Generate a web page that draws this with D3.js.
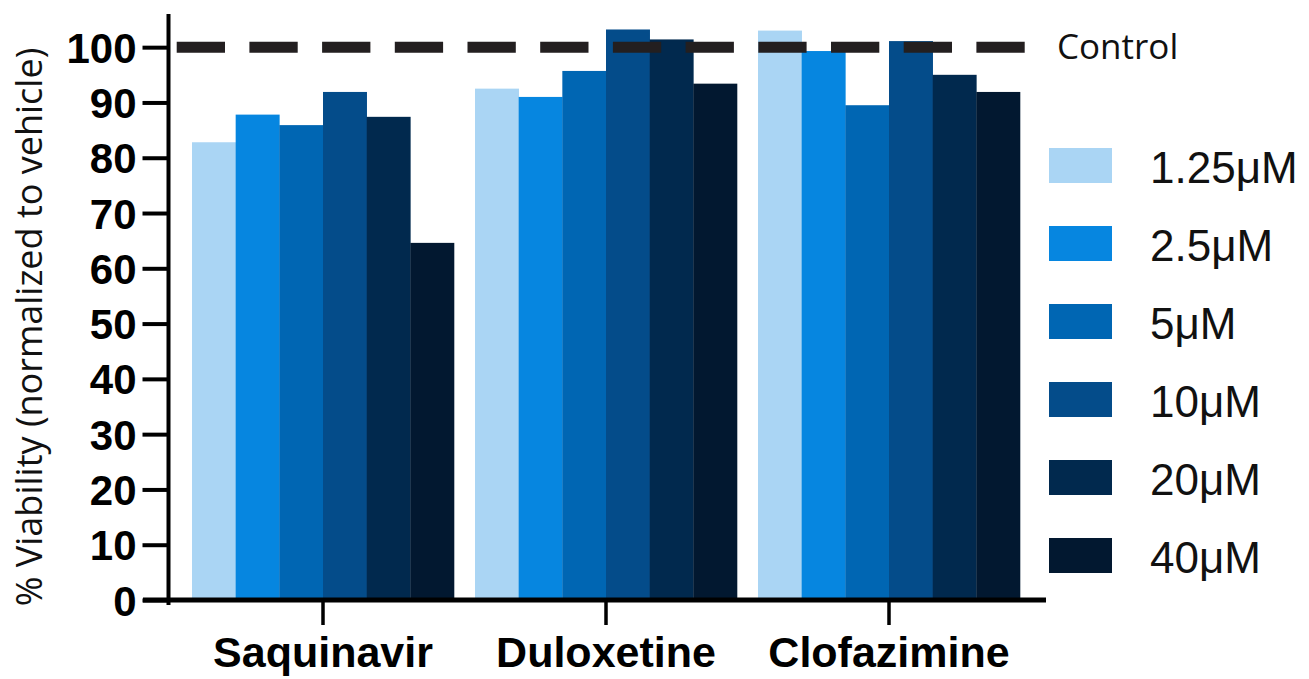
<!DOCTYPE html>
<html>
<head>
<meta charset="utf-8">
<script src="https://cdn.jsdelivr.net/npm/d3@7"></script>
<style>
  html, body { margin: 0; padding: 0; background: #fff; }
  svg { display: block; }
</style>
</head>
<body>
<svg id="chart" width="1309" height="679"></svg>
<script>
// ---- Data ----
const drugs = ["Saquinavir", "Duloxetine", "Clofazimine"];
const doses = ["1.25\u03BCM", "2.5\u03BCM", "5\u03BCM", "10\u03BCM", "20\u03BCM", "40\u03BCM"];
const saquinavir = [82.8, 87.8, 85.9, 91.9, 87.4, 64.6];
const duloxetine = [92.5, 91.0, 95.7, 103.2, 101.4, 93.4];
const clofazimine = [103.0, 99.3, 89.5, 101.1, 95.0, 91.9];
const doseColors = ["#aad5f4", "#0686e0", "#0066b3", "#044c8a", "#01294e", "#021830"];
const yTicks = [0, 10, 20, 30, 40, 50, 60, 70, 80, 90, 100];
const controlValue = 100;
const controlLabel = "Control";
const yLabel = "% Viability (normalized to vehicle)";

const seriesByDrug = [saquinavir, duloxetine, clofazimine];

// ---- Layout ----
const svg = d3.select("#chart");
const fontSans = "'Liberation Sans', Arial, sans-serif";
const fontOpen = "'Open Sans', 'Noto Sans', sans-serif";

const y = d3.scaleLinear().domain([0, 106]).range([600, 14]);
const x0 = d3.scaleBand().domain(drugs).range([181.5, 1030.5])
  .paddingInner(0.0742).paddingOuter(0.0371);
const x1 = d3.scaleBand().domain(doses).range([0, x0.bandwidth()]).padding(0);
const color = d3.scaleOrdinal().domain(doses).range(doseColors);

// ---- Bars ----
const groups = svg.append("g").selectAll("g")
  .data(drugs.map((d, i) => ({ drug: d, values: seriesByDrug[i] })))
  .join("g")
  .attr("transform", d => `translate(${x0(d.drug)},0)`);

groups.selectAll("rect")
  .data(d => d.values.map((v, j) => ({ dose: doses[j], value: v })))
  .join("rect")
  .attr("x", d => x1(d.dose))
  .attr("width", x1.bandwidth() + 0.3)
  .attr("y", d => y(d.value))
  .attr("height", d => y(0) - y(d.value))
  .attr("fill", d => color(d.dose));

// ---- Y axis ----
const yAxis = svg.append("g")
  .attr("transform", "translate(168.5,0)")
  .call(d3.axisLeft(y).tickValues(yTicks).tickSize(26).tickSizeOuter(0).tickPadding(6));
yAxis.select(".domain").attr("stroke", "#000").attr("stroke-width", 4)
  .attr("d", `M0,${y(106)}V${y(0) + 5}`);
yAxis.selectAll(".tick line").attr("stroke", "#000").attr("stroke-width", 4);
yAxis.selectAll(".tick text")
  .attr("font-family", fontSans).attr("font-weight", "bold")
  .attr("font-size", 42).attr("fill", "#000").attr("dy", "0.36em");

// ---- X axis ----
const xAxis = svg.append("g")
  .attr("transform", `translate(0,${y(0)})`)
  .call(d3.axisBottom(x0).tickSize(25).tickSizeOuter(0).tickPadding(14));
xAxis.select(".domain").attr("stroke", "#000").attr("stroke-width", 5)
  .attr("d", "M143,0H1046");
xAxis.selectAll(".tick line").attr("stroke", "#000").attr("stroke-width", 3.5);
xAxis.selectAll(".tick text")
  .attr("font-family", fontSans).attr("font-weight", "bold")
  .attr("font-size", 43).attr("fill", "#000").attr("dy", "0.64em");

// ---- Control dashed line ----
svg.append("line")
  .attr("x1", 176.7).attr("x2", 1025)
  .attr("y1", y(controlValue)).attr("y2", y(controlValue))
  .attr("stroke", "#231f20").attr("stroke-width", 11)
  .attr("stroke-dasharray", "48.3,24.4");
svg.append("text")
  .attr("x", 1057).attr("y", y(controlValue)).attr("dy", "0.35em")
  .attr("font-family", fontOpen).attr("font-size", 35).attr("fill", "#111")
  .text(controlLabel);

// ---- Y label ----
svg.append("text")
  .attr("transform", `translate(42,327) rotate(-90)`)
  .attr("text-anchor", "middle")
  .attr("font-family", fontOpen).attr("font-size", 36).attr("fill", "#111")
  .text(yLabel);

// ---- Legend ----
const legend = svg.append("g").attr("transform", "translate(1049,148)");
const rowStep = 78;
const lg = legend.selectAll("g").data(doses).join("g")
  .attr("transform", (d, i) => `translate(0,${i * rowStep})`);
lg.append("rect").attr("width", 63).attr("height", 35)
  .attr("fill", d => color(d));
lg.append("text").attr("x", 101).attr("y", 35)
  .attr("font-family", fontSans).attr("font-size", 44).attr("fill", "#111")
  .text(d => d);
</script>
</body>
</html>
